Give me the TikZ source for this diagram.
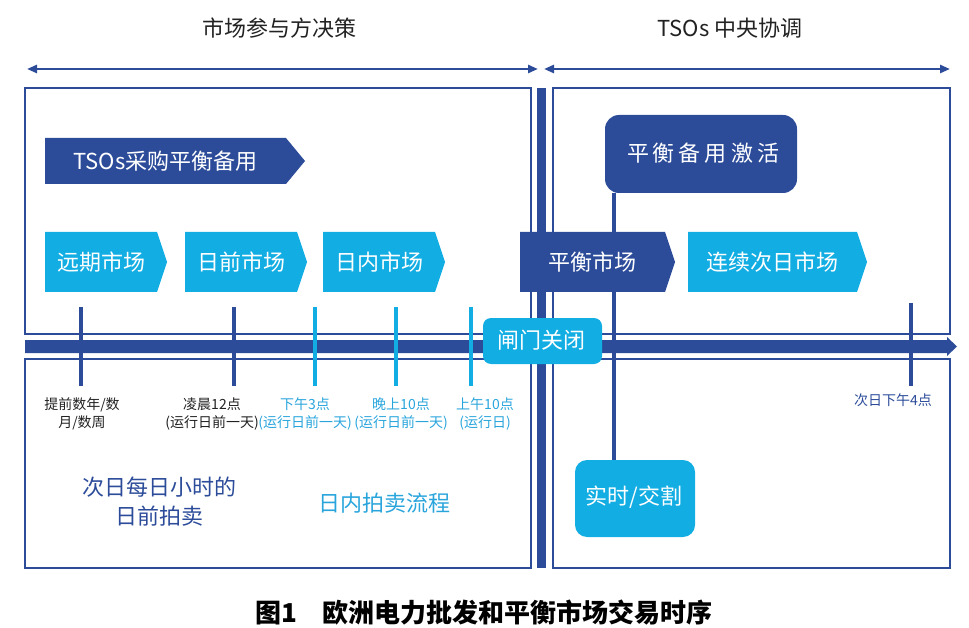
\documentclass[tikz,border=0pt]{standalone}
\usepackage{fontspec}
\setmainfont{Noto Sans CJK SC}
\usetikzlibrary{arrows.meta}
\definecolor{dkb}{HTML}{2C4C9A}
\definecolor{ltb}{HTML}{12ADE3}
\definecolor{ltt}{HTML}{2AA5DC}
\definecolor{txk}{HTML}{222222}
\newcommand\mychev[8]{%
  \fill[#2] (#3,#6) -- (#4,#6) -- (#5,{(#6+#7)/2}) -- (#4,#7) -- (#3,#7) -- cycle;
  \node[lbl] (#1) at ({(#3+#4)/2},{(#6+#7)/2}) {#8};}
\begin{document}
\begin{tikzpicture}[x=1pt,y=-1pt,
  frame/.style={draw=dkb, line width=2.4pt},
  tickd/.style={draw=dkb, line width=3.6pt},
  tickl/.style={draw=ltb, line width=3.6pt},
  lbl/.style={font=\fontsize{22}{24}\selectfont, text=white, inner sep=0pt},
  ttl/.style={font=\fontsize{22}{24}\selectfont, text=txk, inner sep=0pt},
  tlbl/.style={font=\fontsize{14}{18}\selectfont, align=center, inner sep=0pt},
  big/.style={font=\fontsize{22}{29}\selectfont, align=center, inner sep=0pt},
  span/.style={draw=dkb, line width=2.5pt, {Triangle[length=10pt,width=8pt]}-{Triangle[length=10pt,width=8pt]}},
  rbox/.style={inner sep=0pt, text=white, font=\fontsize{22}{24}\selectfont}
]
\useasboundingbox (0,0) rectangle (969,628);
% titles
\node[ttl] (t1) at (279,28) {市场参与方决策};
\node[ttl] (t2) at (730,28) {TSOs 中央协调};
% spans
\coordinate (a1) at (27,69); \coordinate (a2) at (538,69);
\coordinate (a3) at (544,69); \coordinate (a4) at (950,69);
\draw[span] (a1) -- (a2);
\draw[span] (a3) -- (a4);
% frames
\draw[frame] (25,88) rectangle (531,334);
\draw[frame] (25,359) rectangle (531,568);
\draw[frame] (553,88) rectangle (950,334);
\draw[frame] (553,359) rectangle (950,568);
% middle bar
\fill[dkb] (537,88) rectangle (546,568);
% timeline
\fill[dkb] (25,340) -- (947,340) -- (947,337) -- (957,346.5) -- (947,356) -- (947,353) -- (25,353) -- cycle;
% ticks
\draw[tickd] (81,307) -- (81,386);
\draw[tickd] (234,307) -- (234,386);
\draw[tickl] (315,307) -- (315,386);
\draw[tickl] (396,307) -- (396,386);
\draw[tickl] (471,307) -- (471,386);
\draw[tickd] (911,303) -- (911,386);
% link line
\coordinate (lk) at (614,193);
\coordinate (lk2) at (614,460);
\draw[dkb, line width=3.6pt] (lk) -- (lk2);
% chevrons
\mychev{tso}{dkb}{45}{286}{305}{138}{184}{TSOs采购平衡备用}
\mychev{fwd}{ltb}{45}{157}{167}{232}{292}{远期市场}
\mychev{da}{ltb}{185}{297}{307}{232}{292}{日前市场}
\mychev{id}{ltb}{323}{435}{445}{232}{292}{日内市场}
\mychev{bm}{dkb}{520}{665}{675}{232}{292}{平衡市场}
\mychev{cnd}{ltb}{688}{857}{867}{232}{292}{连续次日市场}
% rounded boxes
\fill[dkb, rounded corners=14pt] (605,115) rectangle (797,193);
\node[rbox] (act) at (703,153) {平\kern4pt 衡\kern4pt 备\kern4pt 用\kern4pt 激\kern4pt 活};
\fill[ltb, rounded corners=12pt] (575,460) rectangle (695,537);
\node[rbox] (rt) at (634,497) {实时/交割};
\fill[ltb, rounded corners=8pt] (483,318) rectangle (602,364);
\node[rbox] (gate) at (541,340) {闸门关闭};
% tick labels
\node[tlbl, text=txk] (l1) at (82,414) {提前数年/数\\月/数周};
\node[tlbl, text=txk] (l2) at (212,414) {凌晨12点\\(运行日前一天)};
\node[tlbl, text=ltt] (l3) at (305,414) {下午3点\\(运行日前一天)};
\node[tlbl, text=ltt] (l4) at (401,414) {晚上10点\\(运行日前一天)};
\node[tlbl, text=ltt] (l5) at (485,414) {上午10点\\(运行日)};
\node[tlbl, text=dkb] (l6) at (893,400) {次日下午4点};
% bottom texts
\node[big, text=dkb] (b1) at (159,502) {次日每日小时的\\日前拍卖};
\node[big, text=ltt] (b2) at (384,503) {日内拍卖流程};
% caption
\node[inner sep=0pt, font=\fontsize{26}{28}\selectfont\bfseries, text=black] (cap) at (484,613) {图1\hspace{1em}欧洲电力批发和平衡市场交易时序};
\end{tikzpicture}
\end{document}
